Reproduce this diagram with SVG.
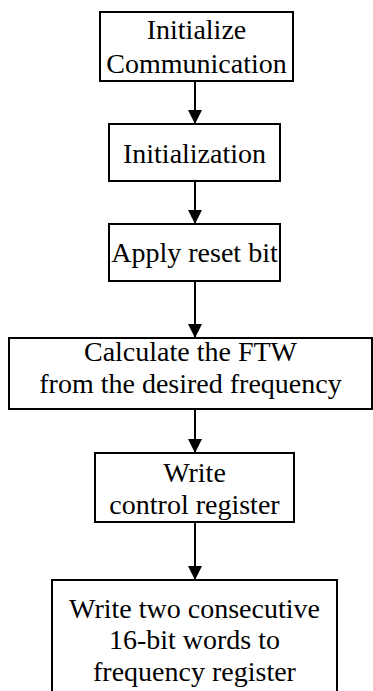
<svg xmlns="http://www.w3.org/2000/svg" width="373" height="691" viewBox="0 0 373 691">
  <style>
    .box { fill: #ffffff; stroke: #000000; stroke-width: 2; }
    .label { font-family: 'Liberation Serif', 'Times New Roman', serif; font-size: 28px; fill: #000000; text-anchor: middle; }
    .edge { stroke: #000000; stroke-width: 2; fill: none; marker-end: url(#arrow); }
  </style>
  <defs>
    <marker id="arrow" markerUnits="userSpaceOnUse" markerWidth="16" markerHeight="14" viewBox="0 0 16 14" refX="8" refY="14" orient="0">
      <path d="M1,0 L15,0 L8,14 Z" fill="#000000"/>
    </marker>
  </defs>
  <rect width="373" height="691" fill="#ffffff"/>

  <g id="connectors">
    <line class="edge" x1="195" y1="81" x2="195" y2="124"/>
    <line class="edge" x1="195" y1="181" x2="195" y2="224"/>
    <line class="edge" x1="195" y1="281" x2="195" y2="338"/>
    <line class="edge" x1="195" y1="409" x2="195" y2="453"/>
    <line class="edge" x1="195" y1="522" x2="195" y2="580"/>
  </g>

  <g id="init-comm">
    <rect class="box" x="100" y="12" width="193" height="69"/>
    <text class="label" x="196.5" y="39">Initialize</text>
    <text class="label" x="196.5" y="73">Communication</text>
  </g>

  <g id="init">
    <rect class="box" x="109" y="124" width="171" height="57"/>
    <text class="label" x="194.5" y="163">Initialization</text>
  </g>

  <g id="reset">
    <rect class="box" x="109" y="224" width="171" height="57"/>
    <text class="label" x="194.5" y="262">Apply reset bit</text>
  </g>

  <g id="ftw">
    <rect class="box" x="9" y="338" width="363" height="71"/>
    <text class="label" x="190.5" y="361">Calculate the FTW</text>
    <text class="label" x="190.5" y="393">from the desired frequency</text>
  </g>

  <g id="ctrl">
    <rect class="box" x="95" y="453" width="199" height="69"/>
    <text class="label" x="194.5" y="482">Write</text>
    <text class="label" x="194.5" y="514">control register</text>
  </g>

  <g id="freq">
    <rect class="box" x="52" y="580" width="285" height="130"/>
    <text class="label" x="194.5" y="618">Write two consecutive</text>
    <text class="label" x="194.5" y="649">16-bit words to</text>
    <text class="label" x="194.5" y="681">frequency register</text>
  </g>
</svg>
